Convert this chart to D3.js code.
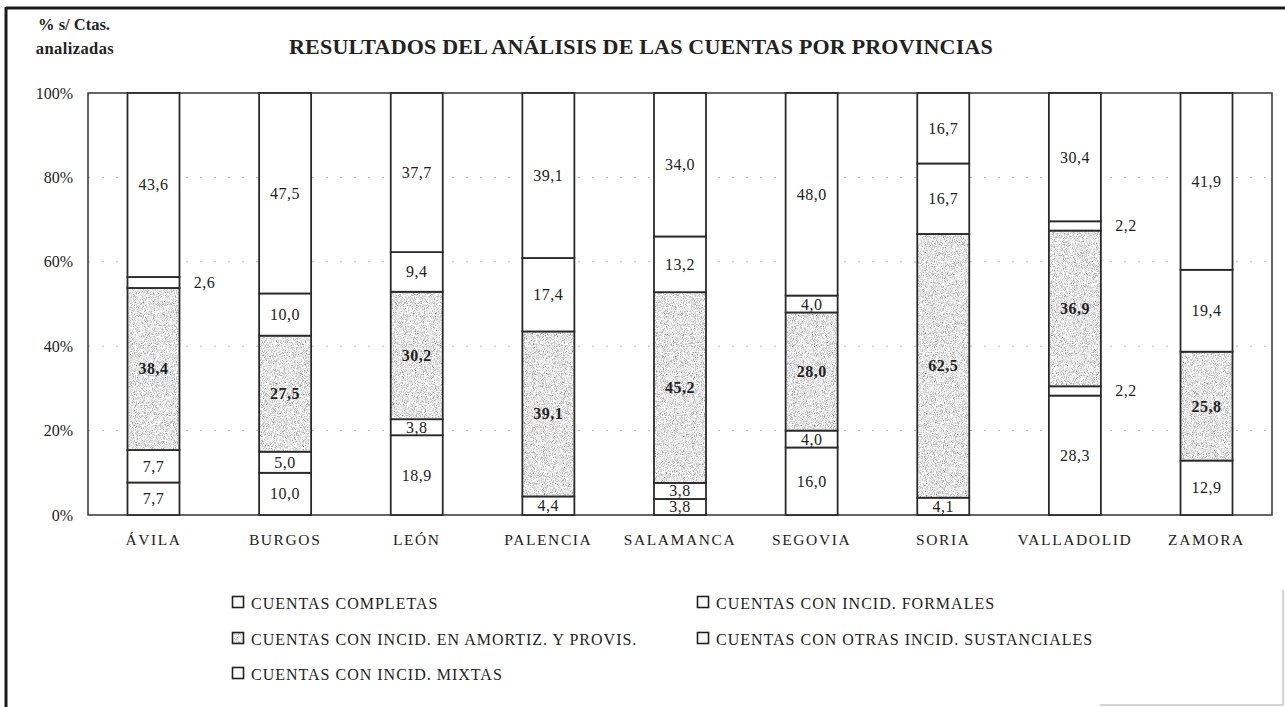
<!DOCTYPE html>
<html>
<head>
<meta charset="utf-8">
<script src="https://cdn.jsdelivr.net/npm/d3@7"></script>
<style>
  body { margin: 0; background: #fff; }
  text { font-family: "Liberation Serif", "Times New Roman", serif; fill: #222; }
</style>
</head>
<body>
<svg id="chart" width="1285" height="707"></svg>
<script>
// provincias y porcentajes por tipo de cuenta (de abajo a arriba)
var provincias = ["ÁVILA", "BURGOS", "LEÓN", "PALENCIA", "SALAMANCA", "SEGOVIA", "SORIA", "VALLADOLID", "ZAMORA"];
var completas = [7.7, 10.0, 18.9, 4.4, 3.8, 16.0, 4.1, 28.3, 12.9];
var formales  = [7.7, 5.0, 3.8, 0, 3.8, 4.0, 0, 2.2, 0];
var amortiz   = [38.4, 27.5, 30.2, 39.1, 45.2, 28.0, 62.5, 36.9, 25.8];
var otras     = [2.6, 10.0, 9.4, 17.4, 13.2, 4.0, 16.7, 2.2, 19.4];
var mixtas    = [43.6, 47.5, 37.7, 39.1, 34.0, 48.0, 16.7, 30.4, 41.9];
var yTicks = [0, 20, 40, 60, 80, 100];

var series_keys = ["completas", "formales", "amortiz", "otras", "mixtas"];
var series_names = {
	completas: "CUENTAS COMPLETAS",
	formales: "CUENTAS CON INCID. FORMALES",
	amortiz: "CUENTAS CON INCID. EN AMORTIZ. Y PROVIS.",
	otras: "CUENTAS CON OTRAS INCID. SUSTANCIALES",
	mixtas: "CUENTAS CON INCID. MIXTAS"
};
var values = {completas: completas, formales: formales, amortiz: amortiz, otras: otras, mixtas: mixtas};

var rows = provincias.map(function (p, i) {
	var r = {prov: p};
	series_keys.forEach(function (k) { r[k] = values[k][i]; });
	return r;
});

var svg = d3.select("#chart");
var plotL = 88, plotR = 1272, plotT = 93, plotB = 515;

var x = d3.scaleBand().domain(provincias).range([plotL, plotR]).paddingInner(0.605).paddingOuter(0.3);
var y = d3.scaleLinear().domain([0, 100]).range([plotB, plotT]);
var fmt = function (v) { return d3.format(".1f")(v).replace(".", ","); };

// stipple texture for the shaded series
var defs = svg.append("defs");
var filt = defs.append("filter").attr("id", "stipple").attr("x", 0).attr("y", 0).attr("width", 1).attr("height", 1);
filt.append("feTurbulence").attr("type", "fractalNoise").attr("baseFrequency", 1.1).attr("numOctaves", 2).attr("seed", 3).attr("result", "n");
filt.append("feColorMatrix").attr("in", "n").attr("type", "matrix")
	.attr("values", "1.7 0 0 0 -0.04  1.7 0 0 0 -0.04  1.7 0 0 0 -0.04  0 0 0 0 1").attr("result", "g");
filt.append("feComposite").attr("in", "g").attr("in2", "SourceGraphic").attr("operator", "in");

// outer frame
svg.append("line").attr("x1", 6).attr("y1", 8).attr("x2", 1285).attr("y2", 8).attr("stroke", "#1a1a1a").attr("stroke-width", 3);
svg.append("line").attr("x1", 6).attr("y1", 7).attr("x2", 6).attr("y2", 707).attr("stroke", "#1a1a1a").attr("stroke-width", 3);
svg.append("polyline").attr("points", "1283,590 1283,705 1100,705").attr("fill", "none").attr("stroke", "#aaa").attr("stroke-width", 1);

// titles
svg.append("text").attr("x", 641).attr("y", 54).attr("text-anchor", "middle")
	.attr("font-size", 22).attr("font-weight", "bold").attr("letter-spacing", 0.2)
	.text("RESULTADOS DEL ANÁLISIS DE LAS CUENTAS POR PROVINCIAS");
svg.append("text").attr("x", 74).attr("y", 30).attr("text-anchor", "middle")
	.attr("font-size", 16.5).attr("font-weight", "bold").text("% s/ Ctas.");
svg.append("text").attr("x", 75).attr("y", 54).attr("text-anchor", "middle")
	.attr("font-size", 16.5).attr("font-weight", "bold").attr("letter-spacing", 0.4).text("analizadas");

// gridlines (faint dotted)
svg.append("g").selectAll("line").data(yTicks.slice(1, -1)).enter().append("line")
	.attr("x1", plotL).attr("x2", plotR)
	.attr("y1", function (d) { return y(d); }).attr("y2", function (d) { return y(d); })
	.attr("stroke", "#b5b5b5").attr("stroke-width", 1).attr("stroke-dasharray", "2,12");

// y axis labels
var yAxis = d3.axisLeft(y).tickValues(yTicks).tickSize(0).tickPadding(15).tickFormat(function (d) { return d + "%"; });
var yg = svg.append("g").attr("transform", "translate(" + plotL + ",0)").call(yAxis);
yg.select(".domain").remove();
yg.selectAll("text").attr("font-size", 16).attr("font-family", "Liberation Serif").attr("fill", "#222");

// x axis labels
var xAxis = d3.axisBottom(x).tickSize(0).tickPadding(19);
var xg = svg.append("g").attr("transform", "translate(0," + plotB + ")").call(xAxis);
xg.select(".domain").remove();
xg.selectAll("text").attr("font-size", 15.5).attr("font-family", "Liberation Serif").attr("fill", "#222").attr("letter-spacing", 1.6);

// plot frame
svg.append("rect").attr("x", plotL).attr("y", plotT).attr("width", plotR - plotL).attr("height", plotB - plotT)
	.attr("fill", "none").attr("stroke", "#333").attr("stroke-width", 1.5);

// stacked bars
var stack = d3.stack().keys(series_keys)(rows);
var layers = svg.append("g").selectAll("g").data(stack).enter().append("g");

layers.filter(function (d) { return d.key == "amortiz"; }).selectAll("rect.fill").data(function (d) { return d; })
	.enter().append("rect").attr("class", "fill")
	.attr("x", function (d) { return x(d.data.prov); })
	.attr("y", function (d) { return y(d[1]); })
	.attr("width", x.bandwidth())
	.attr("height", function (d) { return y(d[0]) - y(d[1]); })
	.attr("fill", "#000").attr("filter", "url(#stipple)");

layers.selectAll("rect.seg").data(function (d) { return d.filter(function (s) { return s[1] > s[0]; }); })
	.enter().append("rect").attr("class", "seg")
	.attr("x", function (d) { return x(d.data.prov); })
	.attr("y", function (d) { return y(d[1]); })
	.attr("width", x.bandwidth())
	.attr("height", function (d) { return y(d[0]) - y(d[1]); })
	.attr("fill", function () { return d3.select(this.parentNode).datum().key == "amortiz" ? "none" : "#fff"; })
	.attr("stroke", "#2a2a2a").attr("stroke-width", 1.8);

// segment labels: small values go to the right of the bar
layers.each(function (layer) {
	var bold = layer.key == "amortiz";
	d3.select(this).selectAll("text").data(layer.filter(function (s) { return s[1] > s[0]; }))
		.enter().append("text")
		.attr("x", function (d) {
			var v = d[1] - d[0];
			return v < 3 ? x(d.data.prov) + x.bandwidth() + 25 : x(d.data.prov) + x.bandwidth() / 2;
		})
		.attr("y", function (d) { return (y(d[0]) + y(d[1])) / 2 + 5.5; })
		.attr("text-anchor", "middle")
		.attr("font-size", 16).attr("letter-spacing", 0.5)
		.attr("font-weight", bold ? "bold" : "normal")
		.text(function (d) { return fmt(d[1] - d[0]); });
});

// legend
var legend_pos = [[232, 603], [697, 603], [232, 639], [697, 639], [232, 674]];
var lg = svg.append("g").selectAll("g").data(series_keys).enter().append("g")
	.attr("transform", function (d, i) { return "translate(" + legend_pos[i][0] + "," + legend_pos[i][1] + ")"; });
lg.filter(function (d) { return d == "amortiz"; }).append("rect")
	.attr("x", 0.5).attr("y", -6.5).attr("width", 11).attr("height", 11)
	.attr("fill", "#000").attr("filter", "url(#stipple)");
lg.append("rect").attr("x", 0.5).attr("y", -6.5).attr("width", 11).attr("height", 11)
	.attr("fill", function (d) { return d == "amortiz" ? "none" : "#fff"; })
	.attr("stroke", "#222").attr("stroke-width", 1.6);
lg.append("text").attr("x", 19).attr("y", 5.5).attr("font-size", 16).attr("letter-spacing", 1.0)
	.text(function (d) { return series_names[d]; });
</script>
</body>
</html>
